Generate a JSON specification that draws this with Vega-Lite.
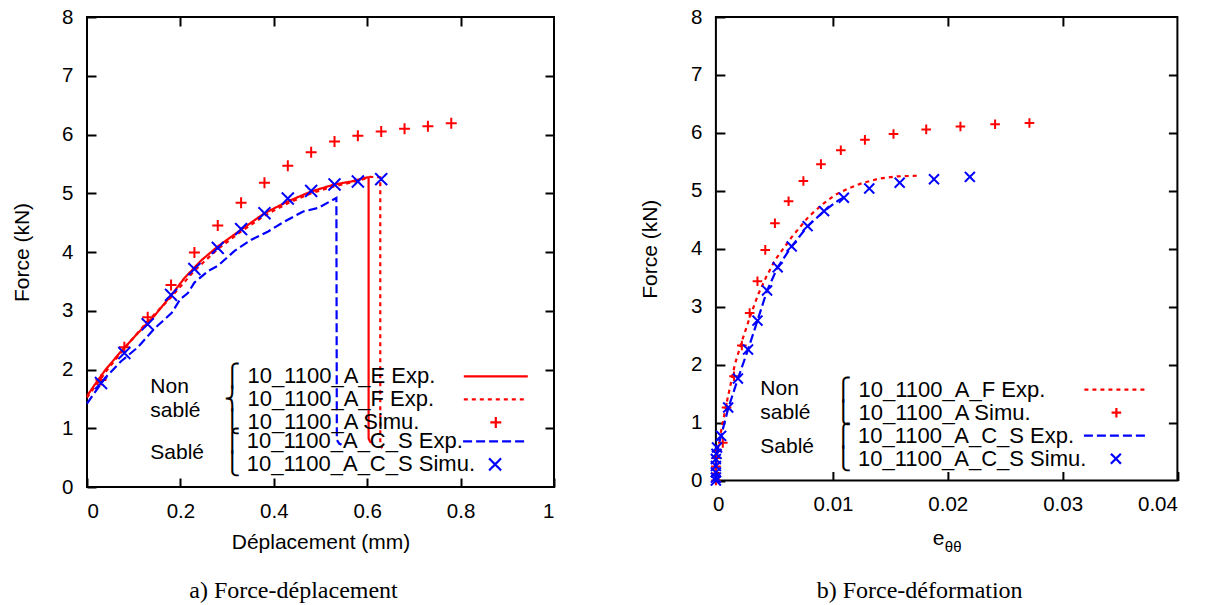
{
  "$schema": "https://vega.github.io/schema/vega-lite/v6.json",
  "background": "white",
  "autosize": {"type": "pad"},
  "padding": {"left": 10, "top": 6, "right": 0, "bottom": 0},
  "spacing": 161.9,
  "bounds": "flush",
  "datasets": {
    "L_A_exp": [
      {"series": "10_1100_A_E Exp.", "i": 1, "x": 0, "y": 1.55},
      {"series": "10_1100_A_E Exp.", "i": 2, "x": 0.02, "y": 1.78},
      {"series": "10_1100_A_E Exp.", "i": 3, "x": 0.04, "y": 2.0},
      {"series": "10_1100_A_E Exp.", "i": 4, "x": 0.073, "y": 2.31},
      {"series": "10_1100_A_E Exp.", "i": 5, "x": 0.109, "y": 2.62},
      {"series": "10_1100_A_E Exp.", "i": 6, "x": 0.145, "y": 2.92},
      {"series": "10_1100_A_E Exp.", "i": 7, "x": 0.181, "y": 3.27},
      {"series": "10_1100_A_E Exp.", "i": 8, "x": 0.209, "y": 3.56},
      {"series": "10_1100_A_E Exp.", "i": 9, "x": 0.245, "y": 3.86},
      {"series": "10_1100_A_E Exp.", "i": 10, "x": 0.281, "y": 4.1},
      {"series": "10_1100_A_E Exp.", "i": 11, "x": 0.33, "y": 4.38},
      {"series": "10_1100_A_E Exp.", "i": 12, "x": 0.38, "y": 4.66},
      {"series": "10_1100_A_E Exp.", "i": 13, "x": 0.43, "y": 4.86},
      {"series": "10_1100_A_E Exp.", "i": 14, "x": 0.48, "y": 5.03},
      {"series": "10_1100_A_E Exp.", "i": 15, "x": 0.53, "y": 5.15},
      {"series": "10_1100_A_E Exp.", "i": 16, "x": 0.566, "y": 5.2},
      {"series": "10_1100_A_E Exp.", "i": 17, "x": 0.6, "y": 5.27},
      {"series": "10_1100_A_E Exp.", "i": 18, "x": 0.603, "y": 5.27},
      {"series": "10_1100_A_E Exp.", "i": 19, "x": 0.603, "y": 0.83},
      {"series": "10_1100_A_E Exp.", "i": 20, "x": 0.606, "y": 0.77},
      {"series": "10_1100_A_E Exp.", "i": 21, "x": 0.612, "y": 0.75},
      {"series": "10_1100_A_F Exp.", "i": 1, "x": 0, "y": 1.52},
      {"series": "10_1100_A_F Exp.", "i": 2, "x": 0.04, "y": 1.96},
      {"series": "10_1100_A_F Exp.", "i": 3, "x": 0.08, "y": 2.36},
      {"series": "10_1100_A_F Exp.", "i": 4, "x": 0.13, "y": 2.82},
      {"series": "10_1100_A_F Exp.", "i": 5, "x": 0.18, "y": 3.23},
      {"series": "10_1100_A_F Exp.", "i": 6, "x": 0.23, "y": 3.68},
      {"series": "10_1100_A_F Exp.", "i": 7, "x": 0.28, "y": 4.05},
      {"series": "10_1100_A_F Exp.", "i": 8, "x": 0.33, "y": 4.35},
      {"series": "10_1100_A_F Exp.", "i": 9, "x": 0.38, "y": 4.62},
      {"series": "10_1100_A_F Exp.", "i": 10, "x": 0.43, "y": 4.83},
      {"series": "10_1100_A_F Exp.", "i": 11, "x": 0.48, "y": 5.0},
      {"series": "10_1100_A_F Exp.", "i": 12, "x": 0.53, "y": 5.12},
      {"series": "10_1100_A_F Exp.", "i": 13, "x": 0.58, "y": 5.21},
      {"series": "10_1100_A_F Exp.", "i": 14, "x": 0.606, "y": 5.28},
      {"series": "10_1100_A_F Exp.", "i": 15, "x": 0.628, "y": 5.27},
      {"series": "10_1100_A_F Exp.", "i": 16, "x": 0.628, "y": 0.72},
      {"series": "10_1100_A_F Exp.", "i": 17, "x": 0.632, "y": 0.66}
    ],
    "L_A_sim": [
      {"series": "10_1100_A Simu.", "x": 0.03, "y": 1.82},
      {"series": "10_1100_A Simu.", "x": 0.08, "y": 2.38},
      {"series": "10_1100_A Simu.", "x": 0.13, "y": 2.89},
      {"series": "10_1100_A Simu.", "x": 0.18, "y": 3.44},
      {"series": "10_1100_A Simu.", "x": 0.23, "y": 3.99},
      {"series": "10_1100_A Simu.", "x": 0.28, "y": 4.45},
      {"series": "10_1100_A Simu.", "x": 0.33, "y": 4.84},
      {"series": "10_1100_A Simu.", "x": 0.38, "y": 5.18},
      {"series": "10_1100_A Simu.", "x": 0.43, "y": 5.47},
      {"series": "10_1100_A Simu.", "x": 0.48, "y": 5.7},
      {"series": "10_1100_A Simu.", "x": 0.53, "y": 5.88},
      {"series": "10_1100_A Simu.", "x": 0.58, "y": 5.98},
      {"series": "10_1100_A Simu.", "x": 0.63, "y": 6.05},
      {"series": "10_1100_A Simu.", "x": 0.68, "y": 6.1},
      {"series": "10_1100_A Simu.", "x": 0.73, "y": 6.14},
      {"series": "10_1100_A Simu.", "x": 0.78, "y": 6.19}
    ],
    "L_B_exp": [
      {"series": "10_1100_A_C_S Exp.", "i": 1, "x": 0, "y": 1.42},
      {"series": "10_1100_A_C_S Exp.", "i": 2, "x": 0.038, "y": 1.85},
      {"series": "10_1100_A_C_S Exp.", "i": 3, "x": 0.073, "y": 2.14},
      {"series": "10_1100_A_C_S Exp.", "i": 4, "x": 0.109, "y": 2.38},
      {"series": "10_1100_A_C_S Exp.", "i": 5, "x": 0.145, "y": 2.7},
      {"series": "10_1100_A_C_S Exp.", "i": 6, "x": 0.181, "y": 2.96},
      {"series": "10_1100_A_C_S Exp.", "i": 7, "x": 0.2, "y": 3.2},
      {"series": "10_1100_A_C_S Exp.", "i": 8, "x": 0.216, "y": 3.3},
      {"series": "10_1100_A_C_S Exp.", "i": 9, "x": 0.23, "y": 3.48},
      {"series": "10_1100_A_C_S Exp.", "i": 10, "x": 0.26, "y": 3.68},
      {"series": "10_1100_A_C_S Exp.", "i": 11, "x": 0.281, "y": 3.77},
      {"series": "10_1100_A_C_S Exp.", "i": 12, "x": 0.316, "y": 4.02},
      {"series": "10_1100_A_C_S Exp.", "i": 13, "x": 0.352, "y": 4.21},
      {"series": "10_1100_A_C_S Exp.", "i": 14, "x": 0.388, "y": 4.35},
      {"series": "10_1100_A_C_S Exp.", "i": 15, "x": 0.423, "y": 4.52},
      {"series": "10_1100_A_C_S Exp.", "i": 16, "x": 0.463, "y": 4.69},
      {"series": "10_1100_A_C_S Exp.", "i": 17, "x": 0.495, "y": 4.75},
      {"series": "10_1100_A_C_S Exp.", "i": 18, "x": 0.534, "y": 4.92},
      {"series": "10_1100_A_C_S Exp.", "i": 19, "x": 0.535, "y": 0.8},
      {"series": "10_1100_A_C_S Exp.", "i": 20, "x": 0.54, "y": 0.74},
      {"series": "10_1100_A_C_S Exp.", "i": 21, "x": 0.545, "y": 0.72}
    ],
    "L_B_sim": [
      {"series": "10_1100_A_C_S Simu.", "x": 0.03, "y": 1.77},
      {"series": "10_1100_A_C_S Simu.", "x": 0.08, "y": 2.28},
      {"series": "10_1100_A_C_S Simu.", "x": 0.13, "y": 2.77},
      {"series": "10_1100_A_C_S Simu.", "x": 0.18, "y": 3.27},
      {"series": "10_1100_A_C_S Simu.", "x": 0.23, "y": 3.71},
      {"series": "10_1100_A_C_S Simu.", "x": 0.28, "y": 4.07},
      {"series": "10_1100_A_C_S Simu.", "x": 0.33, "y": 4.39},
      {"series": "10_1100_A_C_S Simu.", "x": 0.38, "y": 4.66},
      {"series": "10_1100_A_C_S Simu.", "x": 0.43, "y": 4.91},
      {"series": "10_1100_A_C_S Simu.", "x": 0.48, "y": 5.04},
      {"series": "10_1100_A_C_S Simu.", "x": 0.53, "y": 5.15},
      {"series": "10_1100_A_C_S Simu.", "x": 0.58, "y": 5.2},
      {"series": "10_1100_A_C_S Simu.", "x": 0.63, "y": 5.24}
    ],
    "R_A_exp": [
      {"series": "10_1100_A_F Exp.", "i": 1, "x": -0.0002, "y": 0},
      {"series": "10_1100_A_F Exp.", "i": 2, "x": -0.0002, "y": 0.2},
      {"series": "10_1100_A_F Exp.", "i": 3, "x": -0.0001, "y": 0.45},
      {"series": "10_1100_A_F Exp.", "i": 4, "x": 0.0001, "y": 0.7},
      {"series": "10_1100_A_F Exp.", "i": 5, "x": 0.0004, "y": 1.0},
      {"series": "10_1100_A_F Exp.", "i": 6, "x": 0.0008, "y": 1.4},
      {"series": "10_1100_A_F Exp.", "i": 7, "x": 0.00146, "y": 2.01},
      {"series": "10_1100_A_F Exp.", "i": 8, "x": 0.00204, "y": 2.39},
      {"series": "10_1100_A_F Exp.", "i": 9, "x": 0.00276, "y": 2.82},
      {"series": "10_1100_A_F Exp.", "i": 10, "x": 0.0035, "y": 3.22},
      {"series": "10_1100_A_F Exp.", "i": 11, "x": 0.0042, "y": 3.52},
      {"series": "10_1100_A_F Exp.", "i": 12, "x": 0.00494, "y": 3.8},
      {"series": "10_1100_A_F Exp.", "i": 13, "x": 0.0064, "y": 4.2},
      {"series": "10_1100_A_F Exp.", "i": 14, "x": 0.00786, "y": 4.55},
      {"series": "10_1100_A_F Exp.", "i": 15, "x": 0.00916, "y": 4.78},
      {"series": "10_1100_A_F Exp.", "i": 16, "x": 0.0102, "y": 4.93},
      {"series": "10_1100_A_F Exp.", "i": 17, "x": 0.01134, "y": 5.04},
      {"series": "10_1100_A_F Exp.", "i": 18, "x": 0.0125, "y": 5.13},
      {"series": "10_1100_A_F Exp.", "i": 19, "x": 0.014, "y": 5.21},
      {"series": "10_1100_A_F Exp.", "i": 20, "x": 0.0156, "y": 5.25},
      {"series": "10_1100_A_F Exp.", "i": 21, "x": 0.0173, "y": 5.26}
    ],
    "R_A_sim": [
      {"series": "10_1100_A Simu.", "x": -0.0002, "y": 0},
      {"series": "10_1100_A Simu.", "x": -0.0002, "y": 0.12},
      {"series": "10_1100_A Simu.", "x": -0.0002, "y": 0.24},
      {"series": "10_1100_A Simu.", "x": -0.00015, "y": 0.39},
      {"series": "10_1100_A Simu.", "x": -0.0001, "y": 0.51},
      {"series": "10_1100_A Simu.", "x": 0.0004, "y": 0.65},
      {"series": "10_1100_A Simu.", "x": 0.00073, "y": 1.26},
      {"series": "10_1100_A Simu.", "x": 0.00138, "y": 1.8},
      {"series": "10_1100_A Simu.", "x": 0.00206, "y": 2.33},
      {"series": "10_1100_A Simu.", "x": 0.00274, "y": 2.89},
      {"series": "10_1100_A Simu.", "x": 0.00342, "y": 3.44},
      {"series": "10_1100_A Simu.", "x": 0.0041, "y": 3.98},
      {"series": "10_1100_A Simu.", "x": 0.00494, "y": 4.44},
      {"series": "10_1100_A Simu.", "x": 0.00613, "y": 4.82},
      {"series": "10_1100_A Simu.", "x": 0.00742, "y": 5.17},
      {"series": "10_1100_A Simu.", "x": 0.00895, "y": 5.46},
      {"series": "10_1100_A Simu.", "x": 0.01068, "y": 5.7},
      {"series": "10_1100_A Simu.", "x": 0.01278, "y": 5.88},
      {"series": "10_1100_A Simu.", "x": 0.01527, "y": 5.98},
      {"series": "10_1100_A Simu.", "x": 0.01812, "y": 6.06},
      {"series": "10_1100_A Simu.", "x": 0.0211, "y": 6.11},
      {"series": "10_1100_A Simu.", "x": 0.02412, "y": 6.15},
      {"series": "10_1100_A Simu.", "x": 0.02711, "y": 6.17}
    ],
    "R_B_exp": [
      {"series": "10_1100_A_C_S Exp.", "i": 1, "x": -0.0002, "y": 0},
      {"series": "10_1100_A_C_S Exp.", "i": 2, "x": -0.0002, "y": 0.4},
      {"series": "10_1100_A_C_S Exp.", "i": 3, "x": 0, "y": 0.6},
      {"series": "10_1100_A_C_S Exp.", "i": 4, "x": 0.00025, "y": 0.77},
      {"series": "10_1100_A_C_S Exp.", "i": 5, "x": 0.0009, "y": 1.26},
      {"series": "10_1100_A_C_S Exp.", "i": 6, "x": 0.00172, "y": 1.76},
      {"series": "10_1100_A_C_S Exp.", "i": 7, "x": 0.0026, "y": 2.26},
      {"series": "10_1100_A_C_S Exp.", "i": 8, "x": 0.00342, "y": 2.76},
      {"series": "10_1100_A_C_S Exp.", "i": 9, "x": 0.00426, "y": 3.28},
      {"series": "10_1100_A_C_S Exp.", "i": 10, "x": 0.00518, "y": 3.68},
      {"series": "10_1100_A_C_S Exp.", "i": 11, "x": 0.0064, "y": 4.04},
      {"series": "10_1100_A_C_S Exp.", "i": 12, "x": 0.00779, "y": 4.39},
      {"series": "10_1100_A_C_S Exp.", "i": 13, "x": 0.00922, "y": 4.65},
      {"series": "10_1100_A_C_S Exp.", "i": 14, "x": 0.0105, "y": 4.84},
      {"series": "10_1100_A_C_S Exp.", "i": 15, "x": 0.0112, "y": 4.91}
    ],
    "R_B_sim": [
      {"series": "10_1100_A_C_S Simu.", "x": -0.0002, "y": 0},
      {"series": "10_1100_A_C_S Simu.", "x": -0.0002, "y": 0.05},
      {"series": "10_1100_A_C_S Simu.", "x": -0.0002, "y": 0.14},
      {"series": "10_1100_A_C_S Simu.", "x": -0.0002, "y": 0.25},
      {"series": "10_1100_A_C_S Simu.", "x": -0.0002, "y": 0.37},
      {"series": "10_1100_A_C_S Simu.", "x": -0.00015, "y": 0.46},
      {"series": "10_1100_A_C_S Simu.", "x": -0.0001, "y": 0.57},
      {"series": "10_1100_A_C_S Simu.", "x": 0.00025, "y": 0.77},
      {"series": "10_1100_A_C_S Simu.", "x": 0.00087, "y": 1.26},
      {"series": "10_1100_A_C_S Simu.", "x": 0.00172, "y": 1.76},
      {"series": "10_1100_A_C_S Simu.", "x": 0.0026, "y": 2.26},
      {"series": "10_1100_A_C_S Simu.", "x": 0.00342, "y": 2.76},
      {"series": "10_1100_A_C_S Simu.", "x": 0.00426, "y": 3.28},
      {"series": "10_1100_A_C_S Simu.", "x": 0.00518, "y": 3.68},
      {"series": "10_1100_A_C_S Simu.", "x": 0.0064, "y": 4.04},
      {"series": "10_1100_A_C_S Simu.", "x": 0.00779, "y": 4.39},
      {"series": "10_1100_A_C_S Simu.", "x": 0.00922, "y": 4.65},
      {"series": "10_1100_A_C_S Simu.", "x": 0.01095, "y": 4.88},
      {"series": "10_1100_A_C_S Simu.", "x": 0.01316, "y": 5.04},
      {"series": "10_1100_A_C_S Simu.", "x": 0.01581, "y": 5.14},
      {"series": "10_1100_A_C_S Simu.", "x": 0.0188, "y": 5.2},
      {"series": "10_1100_A_C_S Simu.", "x": 0.02192, "y": 5.24}
    ]
  },
  "hconcat": [
    {
      "width": 467,
      "height": 470,
      "title": {"text": "a) Force-déplacement", "orient": "bottom", "frame": "group", "anchor": "middle", "dx": -27, "offset": 26},
      "layer": [
        {
          "encoding": {
            "x": {"field": "x", "type": "quantitative", "scale": {"domain": [0, 1], "nice": false, "zero": false},
                  "axis": {"orient": "bottom", "values": [0, 0.2, 0.4, 0.6, 0.8, 1], "format": "~g", "title": "Déplacement (mm)", "titleX": 233.5, "titleY": 70.7, "titleAlign": "center", "titleBaseline": "alphabetic"}},
            "y": {"field": "y", "type": "quantitative", "scale": {"domain": [0, 8], "nice": false, "zero": false},
                  "axis": {"orient": "left", "values": [0, 1, 2, 3, 4, 5, 6, 7, 8], "title": "Force (kN)", "titleX": -73.7, "titleY": 235, "titleAngle": -90, "titleAlign": "center", "titleBaseline": "middle"}},
            "color": {"field": "series", "type": "nominal",
                      "scale": {"domain": ["10_1100_A_E Exp.", "10_1100_A_F Exp.", "10_1100_A Simu."], "range": ["#ff0000", "#ff0000", "#ff0000"]},
                      "legend": {"title": ["Non", "sablé"], "legendX": 63.3, "legendY": 347.9, "titlePadding": 23, "symbolOffset": 260, "labelOffset": -283, "rowPadding": -1,
                                 "labelExpr": "(datum.value == '10_1100_A_E Exp.' ? '⎧ ' : datum.value == '10_1100_A Simu.' ? '⎩ ' : '⎨ ') + datum.label"}},
            "shape": {"field": "series", "type": "nominal",
                      "scale": {"domain": ["10_1100_A_E Exp.", "10_1100_A_F Exp.", "10_1100_A Simu."], "range": ["M-3.2,0L3.2,0", "M-3.2,0L3.2,0", "M-0.55,0L0.55,0M0,-0.55L0,0.55"]}},
            "strokeDash": {"field": "series", "type": "nominal",
                      "scale": {"domain": ["10_1100_A_E Exp.", "10_1100_A_F Exp.", "10_1100_A Simu."], "range": [[1, 0], [4, 4], [1, 0]]}}
          },
          "layer": [
            {"data": {"name": "L_A_exp"}, "mark": {"type": "line", "strokeWidth": 2.2}, "encoding": {"order": {"field": "i", "type": "quantitative"}}},
            {"data": {"name": "L_A_sim"}, "mark": {"type": "point", "filled": false, "size": 400, "strokeWidth": 2, "opacity": 1}}
          ]
        },
        {
          "encoding": {
            "x": {"field": "x", "type": "quantitative", "scale": {"domain": [0, 1], "nice": false, "zero": false},
                  "axis": {"orient": "top", "values": [0.2, 0.4, 0.6, 0.8], "labels": false, "title": null}},
            "y": {"field": "y", "type": "quantitative", "scale": {"domain": [0, 8], "nice": false, "zero": false},
                  "axis": {"orient": "right", "values": [1, 2, 3, 4, 5, 6, 7], "labels": false, "title": null}},
            "color": {"field": "series", "type": "nominal",
                      "scale": {"domain": ["10_1100_A_C_S Exp.", "10_1100_A_C_S Simu."], "range": ["#0000ff", "#0000ff"]},
                      "legend": {"title": "Sablé", "legendX": 63.3, "legendY": 412.9, "titlePadding": 19.3, "symbolOffset": 260, "labelOffset": -283, "rowPadding": -1,
                                 "labelExpr": "(datum.value == '10_1100_A_C_S Exp.' ? '⎧ ' : '⎩ ') + datum.label"}},
            "shape": {"field": "series", "type": "nominal",
                      "scale": {"domain": ["10_1100_A_C_S Exp.", "10_1100_A_C_S Simu."], "range": ["M-3.2,0L3.2,0", "M-0.6,-0.6L0.6,0.6M-0.6,0.6L0.6,-0.6"]}},
            "strokeDash": {"field": "series", "type": "nominal",
                      "scale": {"domain": ["10_1100_A_C_S Exp.", "10_1100_A_C_S Simu."], "range": [[9, 4], [1, 0]]}}
          },
          "layer": [
            {"data": {"name": "L_B_exp"}, "mark": {"type": "line", "strokeWidth": 2.2}, "encoding": {"order": {"field": "i", "type": "quantitative"}}},
            {"data": {"name": "L_B_sim"}, "mark": {"type": "point", "filled": false, "size": 400, "strokeWidth": 2, "opacity": 1}}
          ]
        }
      ],
      "resolve": {"scale": {"color": "independent", "shape": "independent", "strokeDash": "independent"}, "axis": {"x": "independent", "y": "independent"}}
    },
    {
      "width": 461.5,
      "height": 463.5,
      "title": {"text": "b) Force-déformation", "orient": "bottom", "frame": "group", "anchor": "middle", "dx": -27, "offset": 24.5},
      "layer": [
        {
          "encoding": {
            "x": {"field": "x", "type": "quantitative", "scale": {"domain": [-0.0002, 0.04], "nice": false, "zero": false},
                  "axis": {"orient": "bottom", "values": [0, 0.01, 0.02, 0.03, 0.04], "format": "~g", "title": "e", "titleX": 222.3, "titleY": 73.2, "titleAlign": "center", "titleBaseline": "alphabetic"}},
            "y": {"field": "y", "type": "quantitative", "scale": {"domain": [0, 8], "nice": false, "zero": false},
                  "axis": {"orient": "left", "values": [0, 1, 2, 3, 4, 5, 6, 7, 8], "title": "Force (kN)", "titleX": -74.8, "titleY": 231.75, "titleAngle": -90, "titleAlign": "center", "titleBaseline": "middle"}},
            "color": {"field": "series", "type": "nominal",
                      "scale": {"domain": ["10_1100_A_F Exp.", "10_1100_A Simu."], "range": ["#ff0000", "#ff0000"]},
                      "legend": {"title": ["Non", "sablé"], "legendX": 44.4, "legendY": 361.2, "titlePadding": 24.1, "symbolOffset": 269.5, "labelOffset": -292.5, "rowPadding": 0,
                                 "labelExpr": "(datum.value == '10_1100_A_F Exp.' ? '⎧ ' : '⎩ ') + datum.label"}},
            "shape": {"field": "series", "type": "nominal",
                      "scale": {"domain": ["10_1100_A_F Exp.", "10_1100_A Simu."], "range": ["M-3.2,0L3.2,0", "M-0.48,0L0.48,0M0,-0.48L0,0.48"]}},
            "strokeDash": {"field": "series", "type": "nominal",
                      "scale": {"domain": ["10_1100_A_F Exp.", "10_1100_A Simu."], "range": [[4, 4], [1, 0]]}}
          },
          "layer": [
            {"data": {"name": "R_A_exp"}, "mark": {"type": "line", "strokeWidth": 2.2}, "encoding": {"order": {"field": "i", "type": "quantitative"}}},
            {"data": {"name": "R_A_sim"}, "mark": {"type": "point", "filled": false, "size": 400, "strokeWidth": 2, "opacity": 1}}
          ]
        },
        {
          "encoding": {
            "y": {"field": "y", "type": "quantitative", "scale": {"domain": [0, 8], "nice": false, "zero": false},
                  "axis": {"orient": "right", "values": [1, 2, 3, 4, 5, 6, 7], "labels": false, "title": null}},
            "color": {"field": "series", "type": "nominal",
                      "scale": {"domain": ["10_1100_A_C_S Exp.", "10_1100_A_C_S Simu."], "range": ["#0000ff", "#0000ff"]},
                      "legend": {"title": "Sablé", "legendX": 44.4, "legendY": 407.2, "titlePadding": 20.6, "symbolOffset": 269.5, "labelOffset": -292.5, "rowPadding": 0,
                                 "labelExpr": "(datum.value == '10_1100_A_C_S Exp.' ? '⎧ ' : '⎩ ') + datum.label"}},
            "shape": {"field": "series", "type": "nominal",
                      "scale": {"domain": ["10_1100_A_C_S Exp.", "10_1100_A_C_S Simu."], "range": ["M-3.2,0L3.2,0", "M-0.5,-0.5L0.5,0.5M-0.5,0.5L0.5,-0.5"]}},
            "strokeDash": {"field": "series", "type": "nominal",
                      "scale": {"domain": ["10_1100_A_C_S Exp.", "10_1100_A_C_S Simu."], "range": [[9, 4], [1, 0]]}}
          },
          "layer": [
            {"data": {"name": "R_B_exp"}, "mark": {"type": "line", "strokeWidth": 2.2},
             "encoding": {"order": {"field": "i", "type": "quantitative"},
                          "x": {"field": "x", "type": "quantitative", "scale": {"domain": [-0.0002, 0.04], "nice": false, "zero": false},
                                "axis": {"orient": "top", "values": [0.01, 0.02, 0.03], "labels": false, "title": null}}}},
            {"data": {"name": "R_B_sim"}, "mark": {"type": "point", "filled": false, "size": 400, "strokeWidth": 2, "opacity": 1},
             "encoding": {"x": {"field": "x", "type": "quantitative", "scale": {"domain": [-0.0002, 0.04], "nice": false, "zero": false},
                                "axis": {"orient": "bottom", "labels": false, "ticks": false, "domain": false, "title": "θθ", "titleFontSize": 15, "titleX": 236.8, "titleY": 80.3, "titleAlign": "center", "titleBaseline": "alphabetic"}}}}
          ],
          "resolve": {"axis": {"x": "independent"}}
        }
      ],
      "resolve": {"scale": {"color": "independent", "shape": "independent", "strokeDash": "independent"}, "axis": {"x": "independent", "y": "independent"}}
    }
  ],
  "config": {
    "view": {"stroke": "black", "strokeWidth": 2},
    "axis": {"domain": false, "grid": false, "ticks": true, "tickColor": "black", "tickOpacity": 1, "tickWidth": 2, "tickSize": 9, "offset": -9, "zindex": 1,
             "labelFont": "Liberation Sans", "labelFontSize": 20.5, "labelColor": "black", "labelPadding": 14,
             "titleFont": "Liberation Sans", "titleFontSize": 21, "titleFontWeight": "normal", "titleColor": "black"},
    "legend": {"orient": "none", "direction": "vertical", "padding": 0,
               "labelFont": "Liberation Sans", "labelFontSize": 22, "labelColor": "black", "labelLimit": 0,
               "titleFont": "Liberation Sans", "titleFontSize": 21, "titleFontWeight": "normal", "titleColor": "black",
               "titleOrient": "left", "titleAnchor": "middle", "titleBaseline": "middle", "titleAlign": "left", "titleLineHeight": 24, "titleLimit": 0,
               "symbolSize": 400, "symbolStrokeWidth": 2.2, "symbolOpacity": 1},
    "title": {"font": "Liberation Serif", "fontSize": 24, "fontWeight": "normal", "color": "black"}
  }
}
